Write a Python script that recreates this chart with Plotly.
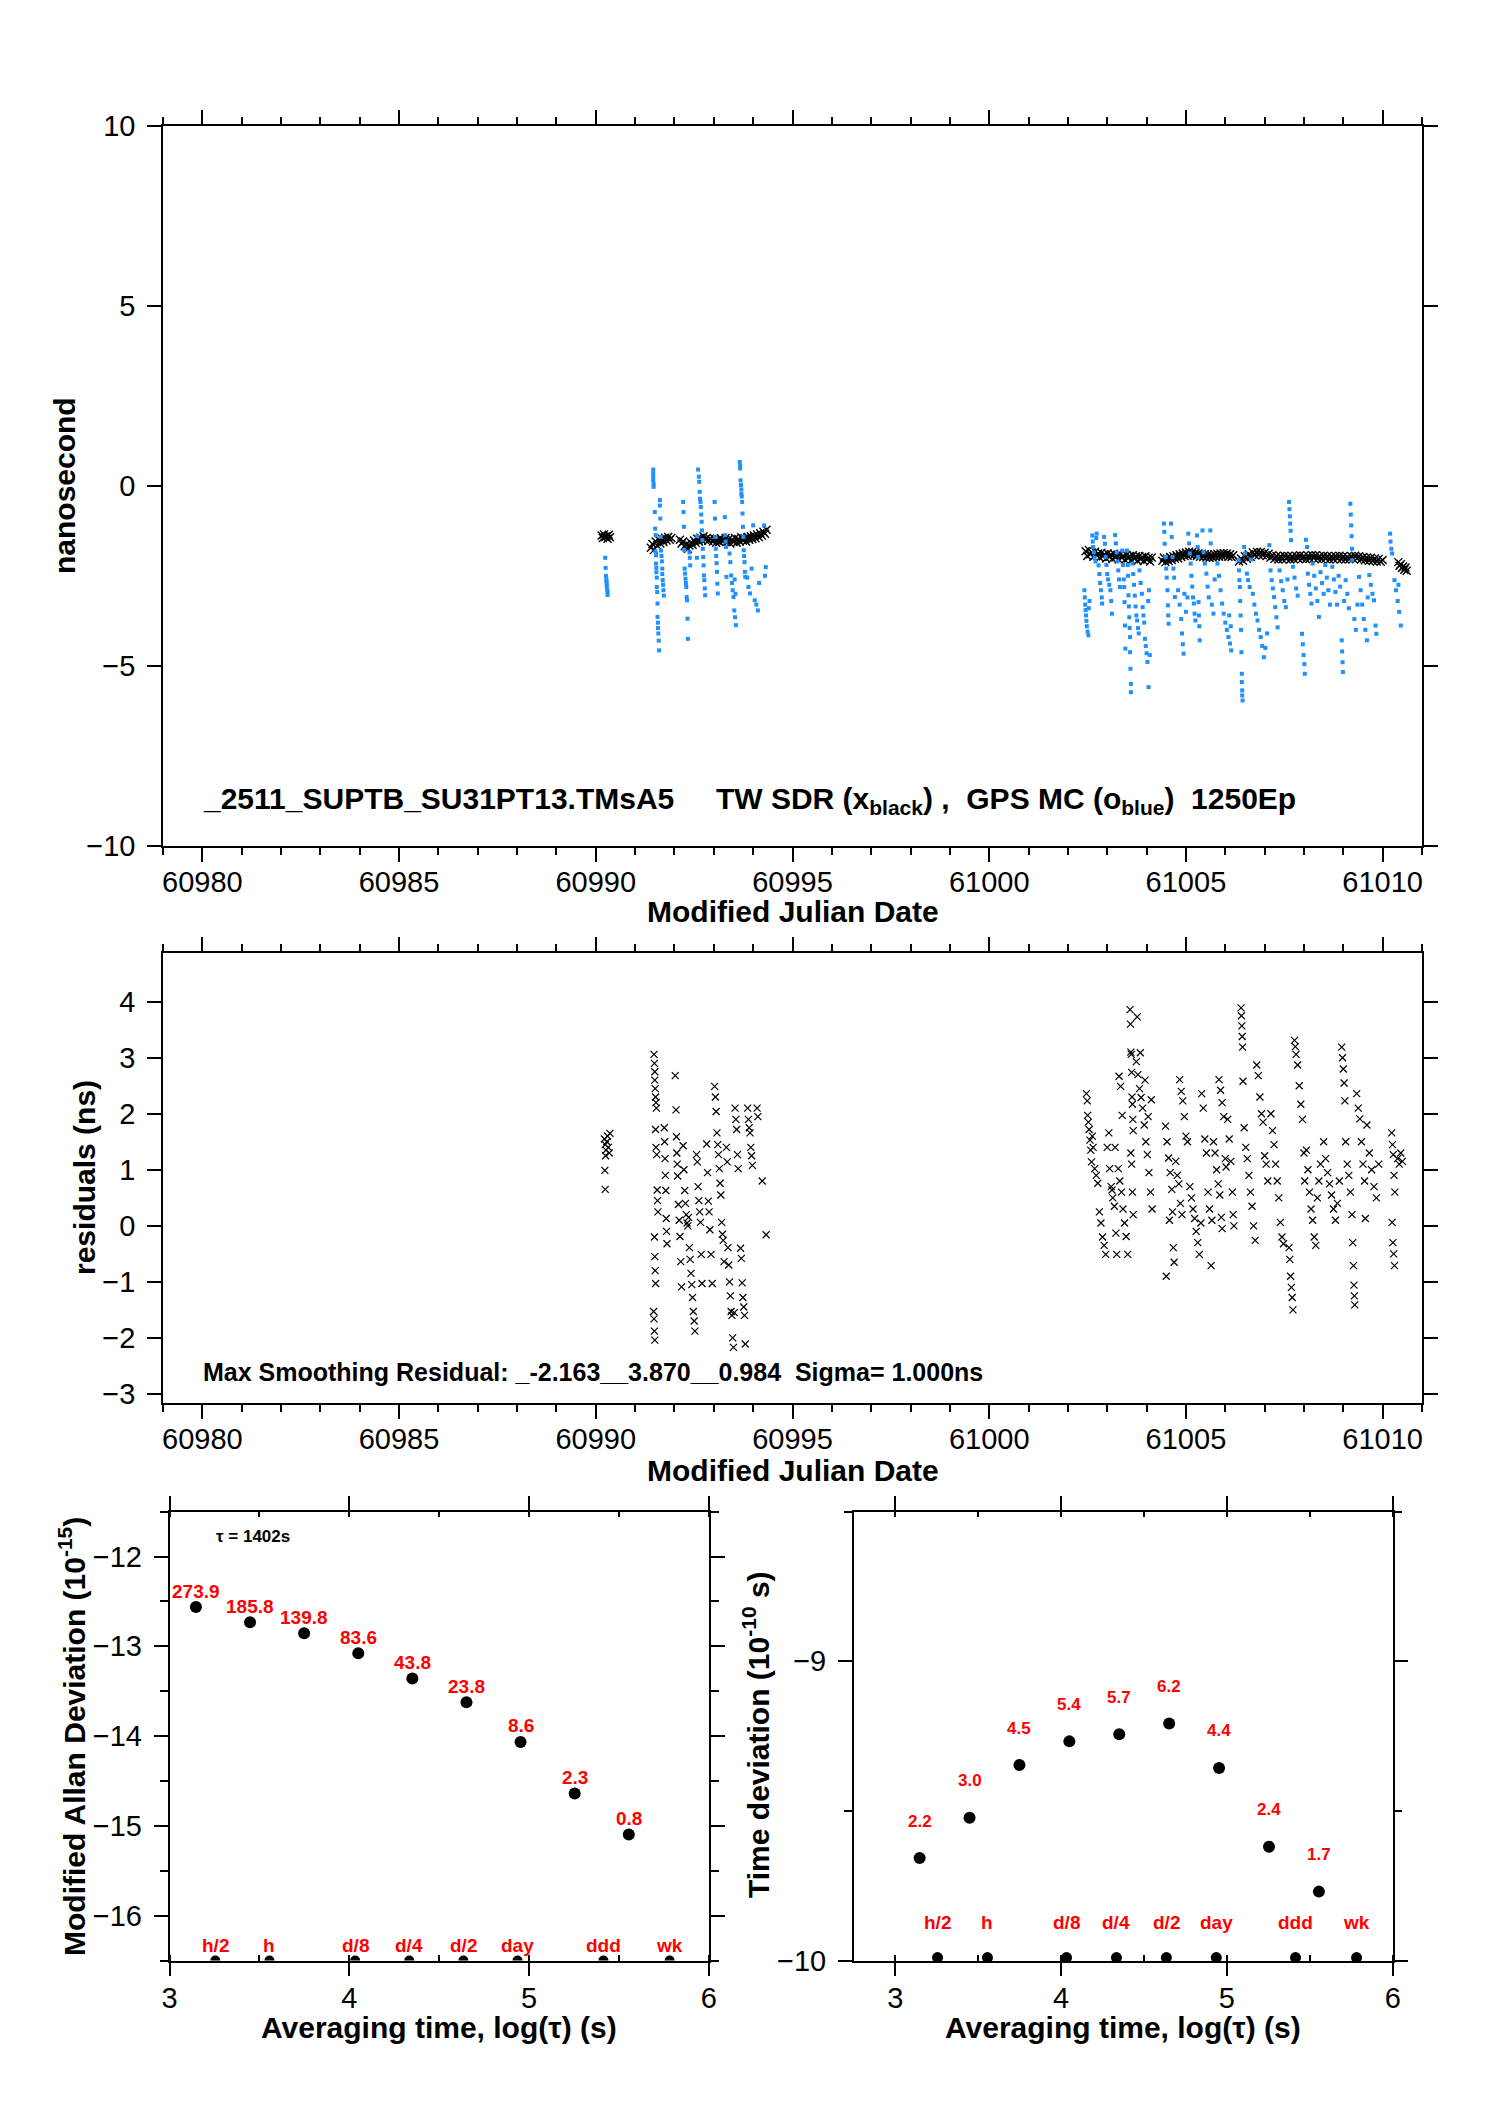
import math
import plotly.graph_objects as go

# ---------------- data: top panel (nanosecond) ----------------
# TW SDR (black x)
tw_pts = [
    (60990.15,-1.38),(60990.18,-1.45),(60990.21,-1.35),(60990.24,-1.42),(60990.27,-1.40),(60990.30,-1.47),(60990.33,-1.36),(60990.36,-1.43),
    (60991.40,-1.72),(60991.44,-1.62),(60991.48,-1.78),(60991.52,-1.55),(60991.56,-1.66),(60991.60,-1.50),(60991.64,-1.60),(60991.68,-1.47),
    (60991.72,-1.56),(60991.76,-1.44),(60991.80,-1.52),(60991.84,-1.42),(60991.88,-1.50),(60991.92,-1.45),
    (60992.14,-1.50),(60992.18,-1.60),(60992.22,-1.55),(60992.26,-1.68),(60992.30,-1.62),(60992.34,-1.75),(60992.38,-1.66),(60992.42,-1.58),
    (60992.46,-1.64),(60992.50,-1.52),(60992.54,-1.58),(60992.58,-1.47),(60992.62,-1.55),(60992.66,-1.44),(60992.70,-1.52),(60992.74,-1.40),
    (60992.78,-1.50),(60992.82,-1.45),(60992.86,-1.53),(60992.90,-1.47),
    (60992.98,-1.55),(60993.02,-1.48),(60993.06,-1.58),(60993.10,-1.50),(60993.14,-1.56),(60993.18,-1.46),(60993.21,-1.53),
    (60993.26,-1.52),(60993.30,-1.45),(60993.34,-1.55),(60993.38,-1.48),(60993.42,-1.60),(60993.46,-1.50),(60993.50,-1.56),(60993.54,-1.45),
    (60993.58,-1.58),(60993.62,-1.48),(60993.66,-1.55),(60993.70,-1.43),(60993.74,-1.52),(60993.78,-1.46),(60993.82,-1.55),(60993.86,-1.42),
    (60993.90,-1.50),(60993.94,-1.40),(60993.98,-1.48),(60994.02,-1.38),(60994.06,-1.46),(60994.10,-1.35),(60994.14,-1.42),(60994.18,-1.32),
    (60994.22,-1.38),(60994.26,-1.28),(60994.30,-1.33),(60994.34,-1.22),
    (61002.45,-1.82),(61002.49,-1.95),(61002.53,-1.78),(61002.57,-1.90),(61002.61,-1.85),(61002.65,-1.97),(61002.69,-1.83),(61002.73,-1.93),
    (61002.77,-1.88),(61002.81,-2.00),(61002.85,-1.86),(61002.89,-1.96),(61002.93,-1.90),(61002.97,-2.02),(61003.01,-1.88),(61003.05,-1.98),
    (61003.09,-1.91),(61003.13,-2.03),(61003.17,-1.89),(61003.21,-1.99),(61003.25,-1.93),(61003.29,-2.05),(61003.33,-1.90),(61003.37,-2.00),
    (61003.41,-1.94),(61003.45,-2.06),(61003.49,-1.92),(61003.53,-2.01),(61003.57,-1.95),(61003.61,-2.07),(61003.65,-1.93),(61003.69,-2.03),
    (61003.73,-1.96),(61003.77,-2.08),(61003.81,-1.95),(61003.85,-2.04),(61003.89,-1.98),(61003.93,-2.09),(61003.97,-1.96),(61004.01,-2.05),
    (61004.05,-2.00),(61004.09,-2.10),(61004.13,-1.99),
    (61004.40,-2.08),(61004.44,-2.00),(61004.48,-2.12),(61004.52,-2.02),(61004.56,-2.09),(61004.60,-1.98),(61004.64,-2.06),(61004.68,-1.96),
    (61004.72,-2.03),(61004.76,-1.93),(61004.80,-2.01),(61004.84,-1.90),(61004.88,-1.98),(61004.92,-1.88),(61004.96,-1.95),(61005.00,-1.85),
    (61005.04,-1.94),(61005.08,-1.83),(61005.12,-1.92),(61005.16,-1.84),(61005.20,-1.93),(61005.24,-1.86),(61005.28,-1.95),(61005.32,-1.88),
    (61005.36,-1.97),(61005.40,-1.89),(61005.44,-1.98),(61005.48,-1.90),(61005.52,-1.99),(61005.56,-1.91),(61005.60,-2.00),(61005.64,-1.92),
    (61005.68,-1.99),(61005.72,-1.90),(61005.76,-1.98),(61005.80,-1.89),(61005.84,-1.97),(61005.88,-1.88),(61005.92,-1.96),(61005.96,-1.87),
    (61006.00,-1.95),(61006.04,-1.88),(61006.08,-1.97),(61006.12,-1.90),(61006.16,-1.98),(61006.20,-1.93),
    (61006.35,-2.10),(61006.40,-2.02),(61006.45,-2.08),(61006.50,-1.96),(61006.55,-2.03),(61006.60,-1.90),(61006.65,-1.98),(61006.70,-1.85),
    (61006.75,-1.93),(61006.80,-1.83),(61006.85,-1.92),(61006.90,-1.84),(61006.95,-1.93),(61007.00,-1.86),(61007.05,-1.95),(61007.10,-1.89),
    (61007.15,-1.99),(61007.20,-1.93),(61007.25,-2.03),(61007.30,-1.95),(61007.35,-2.05),(61007.40,-1.96),(61007.45,-2.04),(61007.50,-1.94),
    (61007.55,-2.03),(61007.60,-1.95),(61007.65,-2.05),(61007.70,-1.96),(61007.75,-2.04),(61007.80,-1.94),(61007.85,-2.02),(61007.90,-1.93),
    (61007.95,-2.03),(61008.00,-1.95),(61008.05,-2.04),(61008.10,-1.94),(61008.15,-2.02),(61008.20,-1.92),(61008.25,-2.01),(61008.30,-1.93),
    (61008.35,-2.03),(61008.40,-1.95),(61008.45,-2.04),(61008.50,-1.94),(61008.55,-2.03),(61008.60,-1.95),(61008.65,-2.05),(61008.70,-1.96),
    (61008.75,-2.04),(61008.80,-1.95),(61008.85,-2.03),(61008.90,-1.94),(61008.95,-2.04),(61009.00,-1.96),(61009.05,-2.05),(61009.10,-1.97),
    (61009.15,-2.04),(61009.20,-1.95),(61009.25,-2.03),(61009.30,-1.94),(61009.35,-2.02),(61009.40,-1.96),(61009.45,-2.05),(61009.50,-1.98),
    (61009.55,-2.07),(61009.60,-1.99),(61009.65,-2.08),(61009.70,-2.00),(61009.75,-2.09),(61009.80,-2.02),(61009.85,-2.10),(61009.90,-2.03),
    (61009.95,-2.11),(61010.00,-2.06),
    (61010.40,-2.12),(61010.43,-2.22),(61010.46,-2.18),(61010.49,-2.28),(61010.52,-2.24),(61010.55,-2.33),(61010.58,-2.27),(61010.61,-2.36),
]

# GPS MC (blue)
gps_pts = [
    (60990.24,-2.00),(60990.25,-2.28),(60990.26,-2.50),(60990.27,-2.65),(60990.28,-2.72),(60990.28,-2.80),(60990.29,-2.88),(60990.30,-2.95),(60990.30,-3.03),(60990.27,-2.60),
    (60991.46,0.45),(60991.46,0.35),(60991.46,0.25),(60991.46,0.15),(60991.47,0.05),(60991.47,-0.03),
    (60991.50,-0.73),(60991.51,-1.19),(60991.52,-1.37),(60991.52,-1.82),(60991.53,-1.93),(60991.53,-2.16),(60991.54,-2.28),(60991.54,-2.40),
    (60991.55,-2.55),(60991.55,-2.81),(60991.56,-2.95),(60991.57,-3.27),(60991.57,-3.64),(60991.58,-3.80),(60991.58,-3.95),(60991.59,-4.10),
    (60991.60,-4.30),(60991.61,-4.57),
    (60991.63,-0.40),(60991.63,-0.55),(60991.64,-0.91),(60991.65,-1.42),(60991.66,-1.80),(60991.67,-1.95),(60991.68,-2.10),(60991.69,-2.30),
    (60991.69,-2.45),(60991.70,-2.62),(60991.71,-2.75),(60991.72,-2.90),(60991.73,-3.05),
    (60992.22,-0.45),(60992.23,-0.73),(60992.24,-1.14),(60992.25,-1.79),(60992.26,-2.30),(60992.27,-2.44),(60992.28,-2.58),(60992.29,-2.70),
    (60992.30,-2.81),(60992.31,-3.09),(60992.32,-3.18),(60992.33,-3.69),(60992.34,-4.25),(60992.38,-1.85),(60992.39,-2.00),(60992.40,-2.21),
    (60992.60,0.45),(60992.62,0.25),(60992.63,0.11),(60992.64,-0.17),(60992.65,-0.36),(60992.66,-0.45),(60992.67,-0.59),(60992.68,-0.80),
    (60992.69,-1.00),(60992.70,-1.24),(60992.71,-1.51),(60992.72,-1.75),(60992.73,-1.98),(60992.74,-2.21),(60992.75,-2.49),(60992.76,-2.62),
    (60992.77,-2.85),(60992.78,-3.04),(60992.58,-1.40),(60992.57,-2.00),
    (60993.02,-0.45),(60993.03,-0.91),(60993.04,-1.42),(60993.05,-1.75),(60993.06,-1.95),(60993.07,-2.15),(60993.08,-2.39),(60993.09,-2.72),(60993.10,-2.99),
    (60993.28,-0.87),(60993.29,-1.37),(60993.30,-1.55),(60993.31,-1.70),(60993.32,-2.53),
    (60993.40,-1.88),(60993.42,-2.12),(60993.44,-2.49),(60993.46,-2.70),(60993.48,-2.90),(60993.50,-3.09),(60993.52,-3.46),(60993.54,-3.65),
    (60993.56,-3.87),(60993.53,-2.60),(60993.55,-3.00),
    (60993.66,0.66),(60993.67,0.55),(60993.67,0.48),(60993.68,0.15),(60993.69,0.02),(60993.70,-0.10),(60993.70,-0.22),(60993.71,-0.30),
    (60993.72,-0.45),(60993.73,-0.77),(60993.74,-1.14),(60993.75,-1.42),(60993.76,-1.79),(60993.77,-1.95),(60993.78,-2.12),(60993.79,-2.39),(60993.80,-2.53),
    (60993.85,-2.55),(60993.88,-2.81),(60993.92,-2.99),(60993.96,-2.30),(60994.00,-1.10),(60994.04,-3.18),(60994.08,-3.30),(60994.12,-3.46),(60994.15,-2.70),
    (60994.28,-1.10),(60994.32,-2.26),(60994.30,-2.50),
    (61002.42,-2.90),(61002.43,-3.10),(61002.44,-3.30),(61002.45,-3.45),(61002.46,-3.60),(61002.47,-3.75),(61002.48,-3.90),(61002.50,-4.05),
    (61002.52,-4.15),(61002.53,-3.40),(61002.55,-3.20),
    (61002.62,-1.38),(61002.63,-1.55),(61002.64,-1.70),(61002.66,-1.85),(61002.68,-2.00),(61002.70,-2.10),(61002.72,-1.45),(61002.73,-1.33),
    (61002.78,-2.21),(61002.80,-2.45),(61002.82,-2.70),(61002.84,-2.90),(61002.86,-3.10),(61002.87,-3.27),
    (61002.92,-1.42),(61002.94,-1.61),(61002.96,-1.98),(61002.98,-2.20),(61003.00,-2.45),(61003.02,-2.60),(61003.05,-2.75),(61003.08,-2.90),
    (61003.10,-3.20),(61003.12,-3.55),
    (61003.20,-1.37),(61003.22,-1.60),(61003.24,-1.85),(61003.26,-2.10),(61003.28,-2.35),(61003.30,-2.60),(61003.32,-2.81),
    (61003.38,-1.80),(61003.40,-2.20),(61003.42,-2.60),(61003.43,-2.81),(61003.44,-3.23),(61003.45,-3.88),(61003.46,-4.52),
    (61003.50,-1.80),(61003.52,-2.20),(61003.53,-2.50),(61003.54,-3.04),(61003.55,-3.35),(61003.56,-3.65),(61003.57,-3.95),(61003.58,-4.20),
    (61003.58,-4.62),(61003.59,-5.08),(61003.60,-5.50),(61003.60,-5.73),
    (61003.64,-2.16),(61003.66,-2.45),(61003.68,-2.75),(61003.70,-3.05),(61003.72,-3.35),(61003.74,-3.60),(61003.76,-3.74),(61003.78,-3.95),(61003.80,-4.10),
    (61003.82,-2.35),(61003.85,-2.70),(61003.88,-3.00),(61003.90,-3.37),(61003.92,-3.60),(61003.94,-3.80),(61003.96,-4.25),(61003.98,-4.45),
    (61004.00,-4.65),(61004.02,-4.89),(61004.04,-3.20),(61004.06,-2.90),(61004.08,-4.70),(61004.05,-5.59),
    (61004.44,-1.05),(61004.45,-1.28),(61004.46,-1.61),(61004.48,-1.98),(61004.50,-2.30),(61004.51,-2.55),(61004.53,-2.90),(61004.54,-3.32),
    (61004.55,-3.60),(61004.56,-3.83),
    (61004.62,-1.05),(61004.64,-1.42),(61004.66,-1.98),(61004.68,-2.30),(61004.70,-2.55),(61004.72,-3.09),
    (61004.80,-2.90),(61004.84,-3.30),(61004.88,-3.70),(61004.90,-4.10),(61004.92,-4.40),(61004.94,-4.66),(61004.96,-3.00),(61005.00,-3.50),(61005.04,-3.10),
    (61005.06,-1.33),(61005.08,-1.60),(61005.10,-1.88),(61005.12,-2.16),(61005.14,-2.50),(61005.16,-2.80),(61005.18,-3.10),(61005.20,-3.27),
    (61005.22,-3.55),(61005.24,-3.74),
    (61005.28,-1.38),(61005.30,-1.70),(61005.31,-1.98),(61005.32,-3.23),(61005.33,-3.60),(61005.34,-3.90),(61005.35,-4.29),
    (61005.42,-1.24),(61005.45,-1.85),(61005.48,-2.16),(61005.52,-2.44),(61005.55,-2.80),(61005.58,-3.10),(61005.62,-1.24),(61005.63,-1.60),
    (61005.66,-3.30),(61005.70,-3.55),(61005.73,-2.60),
    (61005.80,-2.16),(61005.84,-2.50),(61005.88,-2.90),(61005.92,-3.27),(61005.96,-3.55),(61006.00,-3.80),(61006.04,-4.00),(61006.08,-4.20),
    (61006.12,-4.38),(61006.15,-4.57),(61006.10,-3.60),(61006.14,-3.90),
    (61006.34,-2.07),(61006.35,-2.35),(61006.36,-2.62),(61006.37,-2.81),(61006.38,-3.20),(61006.39,-3.60),(61006.40,-4.00),(61006.41,-4.62),
    (61006.42,-5.22),(61006.42,-5.45),(61006.43,-5.68),(61006.43,-5.82),(61006.44,-5.96),
    (61006.48,-1.70),(61006.50,-1.88),(61006.55,-2.44),(61006.58,-2.62),(61006.62,-2.81),(61006.65,-2.05),
    (61006.70,-3.00),(61006.74,-3.30),(61006.78,-3.55),(61006.82,-3.74),(61006.86,-4.00),(61006.90,-4.20),(61006.94,-4.45),(61006.98,-4.76),
    (61007.02,-4.50),(61007.06,-4.10),
    (61007.12,-1.65),(61007.15,-2.35),(61007.18,-2.62),(61007.21,-2.85),(61007.24,-3.09),(61007.27,-3.37),(61007.30,-3.65),(61007.33,-3.93),
    (61007.38,-2.35),(61007.42,-2.65),(61007.46,-2.90),(61007.50,-3.20),(61007.54,-3.37),(61007.58,-2.60),(61007.62,-0.45),(61007.63,-0.65),
    (61007.64,-0.85),(61007.65,-1.05),(61007.66,-1.25),(61007.67,-1.51),(61007.72,-2.25),(61007.76,-2.55),(61007.80,-2.85),(61007.84,-3.05),
    (61007.95,-4.11),(61007.97,-4.40),(61007.99,-4.70),(61008.01,-4.95),(61008.02,-5.22),
    (61008.05,-1.50),(61008.08,-1.70),(61008.10,-2.44),(61008.13,-2.75),(61008.16,-3.00),(61008.19,-3.27),
    (61008.22,-2.16),(61008.26,-2.50),(61008.30,-2.85),(61008.34,-3.20),(61008.38,-3.64),(61008.42,-2.40),(61008.46,-2.70),(61008.50,-3.00),
    (61008.54,-2.20),(61008.58,-2.55),(61008.62,-2.90),(61008.66,-3.30),
    (61008.72,-2.25),(61008.76,-2.60),(61008.80,-2.95),(61008.84,-3.30),(61008.88,-2.50),(61008.92,-2.80),(61008.96,-4.29),(61008.97,-4.60),
    (61008.98,-4.90),(61008.99,-5.17),(61009.02,-3.20),
    (61009.06,-2.62),(61009.10,-3.00),(61009.14,-3.40),(61009.18,-0.50),(61009.19,-0.80),(61009.20,-1.10),(61009.21,-1.40),(61009.22,-1.75),
    (61009.23,-2.07),(61009.28,-3.70),(61009.32,-4.00),(61009.36,-3.30),
    (61009.40,-2.53),(61009.44,-2.90),(61009.48,-3.30),(61009.52,-3.70),(61009.56,-4.00),(61009.60,-4.29),(61009.62,-3.10),
    (61009.66,-2.48),(61009.70,-2.75),(61009.74,-3.00),(61009.78,-3.18),(61009.82,-3.88),(61009.84,-4.11),
    (61010.19,-1.33),(61010.20,-1.55),(61010.22,-1.75),(61010.24,-1.88),
    (61010.30,-2.62),(61010.34,-2.90),(61010.38,-3.20),(61010.42,-3.50),(61010.46,-3.88),(61010.40,-2.75),
]

# ---------------- data: residuals ----------------
res_pts = [
    (60990.22,1.55),(60990.24,1.45),(60990.26,1.35),(60990.28,1.50),(60990.30,1.60),(60990.32,1.40),(60990.34,1.30),(60990.36,1.65),
    (60990.25,1.25),(60990.23,0.99),(60990.24,0.65),
    (60991.48,3.06),(60991.49,2.90),(60991.50,2.75),(60991.50,2.60),(60991.51,2.45),(60991.52,2.30),(60991.53,2.20),(60991.54,2.10),
    (60991.52,1.72),(60991.53,1.40),(60991.55,1.27),(60991.56,0.64),(60991.57,0.45),(60991.58,0.25),(60991.49,-0.20),(60991.50,-0.55),
    (60991.51,-0.80),(60991.52,-1.03),(60991.47,-1.53),(60991.48,-1.66),(60991.49,-1.88),(60991.50,-2.04),
    (60991.74,1.75),(60991.75,1.50),(60991.76,1.20),(60991.77,0.90),(60991.78,0.63),(60991.79,0.13),(60991.80,-0.10),(60991.81,-0.32),
    (60992.02,2.68),(60992.04,2.07),(60992.05,1.59),(60992.06,1.30),(60992.07,1.10),(60992.08,0.89),(60992.10,0.38),(60992.12,0.10),
    (60992.14,-0.19),(60992.16,-0.64),(60992.18,-1.09),
    (60992.22,1.43),(60992.24,1.00),(60992.26,0.63),(60992.28,0.40),(60992.30,0.20),(60992.32,0.05),(60992.34,0.00),(60992.36,0.15),
    (60992.38,-0.39),(60992.40,-0.60),(60992.42,-0.85),(60992.44,-1.05),(60992.46,-1.28),(60992.48,-1.53),(60992.50,-1.70),(60992.52,-1.88),
    (60992.56,1.27),(60992.58,1.14),(60992.60,0.70),(60992.62,0.45),(60992.64,0.25),(60992.66,0.06),(60992.68,-0.51),(60992.70,-1.03),
    (60992.82,1.46),(60992.84,0.95),(60992.86,0.44),(60992.88,0.25),(60992.90,-0.07),(60992.93,-0.51),(60992.96,-1.03),
    (60993.02,2.49),(60993.04,2.30),(60993.06,2.04),(60993.08,1.66),(60993.10,1.45),(60993.12,1.27),(60993.14,1.02),(60993.16,0.76),
    (60993.18,0.55),(60993.20,0.06),(60993.22,-0.15),(60993.24,-0.26),(60993.26,-0.64),
    (60993.32,1.40),(60993.34,1.14),(60993.36,-0.39),(60993.38,-0.70),(60993.40,-1.00),(60993.42,-1.25),(60993.44,-1.53),(60993.46,-1.60),
    (60993.48,-2.00),(60993.50,-2.17),(60993.52,-1.55),
    (60993.54,2.10),(60993.56,1.90),(60993.58,1.72),(60993.60,1.27),(60993.62,1.02),
    (60993.68,-0.40),(60993.70,-0.58),(60993.72,-1.02),(60993.74,-1.28),(60993.76,-1.45),(60993.78,-1.60),(60993.80,-2.11),
    (60993.86,2.10),(60993.88,1.90),(60993.90,1.75),(60993.92,1.66),(60993.94,1.40),(60993.96,1.25),(60993.98,1.08),(60994.10,2.10),
    (60994.12,1.95),(60994.23,0.80),(60994.33,-0.16),
    (61002.47,2.36),(61002.49,2.23),(61002.50,1.97),(61002.52,1.85),(61002.54,1.72),(61002.56,1.53),(61002.58,1.35),(61002.60,1.14),
    (61002.62,1.60),(61002.64,1.40),
    (61002.68,1.02),(61002.72,0.90),(61002.76,0.76),(61002.80,0.25),(61002.84,0.05),(61002.88,-0.20),(61002.92,-0.35),(61002.96,-0.51),
    (61003.00,1.40),(61003.04,1.66),
    (61003.06,1.02),(61003.10,0.70),(61003.14,0.50),(61003.18,0.35),(61003.22,-0.13),(61003.24,-0.51),(61003.12,0.64),(61003.20,1.40),
    (61003.28,1.02),(61003.32,0.80),(61003.36,0.60),(61003.40,0.30),(61003.44,0.05),(61003.48,-0.19),(61003.52,-0.51),(61003.30,2.67),
    (61003.34,2.49),(61003.38,1.97),
    (61003.58,3.86),(61003.59,3.60),(61003.60,3.10),(61003.61,3.06),(61003.62,2.74),(61003.63,2.30),(61003.64,2.17),(61003.65,1.90),
    (61003.66,1.70),(61003.60,1.30),(61003.62,1.10),(61003.64,0.60),(61003.66,0.20),
    (61003.74,2.93),(61003.78,2.70),(61003.82,2.45),(61003.86,2.29),(61003.90,2.10),(61003.94,1.80),(61003.98,1.50),(61004.02,1.27),
    (61004.06,0.95),(61004.10,0.60),(61004.14,0.30),(61003.76,3.73),(61003.84,3.09),(61003.96,2.60),(61004.04,1.95),(61004.12,2.25),
    (61004.48,1.78),(61004.52,1.50),(61004.56,1.21),(61004.60,0.95),(61004.64,0.65),(61004.66,0.25),(61004.68,-0.39),(61004.70,-0.65),
    (61004.50,-0.90),(61004.58,0.10),
    (61004.74,1.15),(61004.78,0.90),(61004.82,0.75),(61004.86,0.40),(61004.90,0.20),(61004.84,2.61),(61004.88,2.40),(61004.92,2.23),
    (61004.96,1.95),(61005.00,1.60),(61005.04,1.50),
    (61005.10,0.70),(61005.14,0.50),(61005.18,0.30),(61005.22,0.13),(61005.26,-0.10),(61005.30,-0.30),(61005.34,-0.51),(61005.38,0.05),
    (61005.40,2.36),(61005.44,2.10),(61005.48,1.55),(61005.52,1.30),(61005.56,0.60),(61005.60,0.30),(61005.64,-0.71),(61005.66,0.10),
    (61005.70,1.50),(61005.74,1.30),(61005.78,1.00),(61005.82,0.75),(61005.86,0.55),(61005.90,0.15),(61005.92,-0.05),
    (61005.84,2.61),(61005.88,2.42),(61005.92,2.20),(61005.96,1.95),(61006.00,1.20),(61006.02,1.05),
    (61006.06,1.90),(61006.10,1.55),(61006.14,1.15),(61006.18,0.60),(61006.20,0.20),(61006.22,0.00),
    (61006.40,3.89),(61006.41,3.75),(61006.42,3.57),(61006.43,3.38),(61006.44,3.19),(61006.45,2.58),
    (61006.48,1.75),(61006.52,1.40),(61006.56,1.20),(61006.60,0.90),(61006.64,0.60),(61006.68,0.35),(61006.72,0.00),(61006.76,-0.26),
    (61006.80,2.87),(61006.84,2.68),(61006.88,2.30),(61006.92,2.00),(61006.96,1.85),(61007.00,1.25),(61007.04,1.10),(61007.08,0.80),
    (61007.16,2.00),(61007.20,1.70),(61007.24,1.45),(61007.28,1.10),(61007.32,0.80),(61007.36,0.50),(61007.40,0.06),(61007.44,-0.20),(61007.48,-0.32),
    (61007.62,-0.39),(61007.64,-0.60),(61007.66,-0.90),(61007.68,-1.10),(61007.70,-1.28),(61007.72,-1.50),
    (61007.76,3.31),(61007.78,3.20),(61007.80,3.06),(61007.84,2.87),(61007.88,2.50),(61007.92,2.17),(61007.96,1.90),(61008.00,1.30),(61008.02,0.80),
    (61008.06,1.35),(61008.10,1.00),(61008.14,0.60),(61008.18,0.30),(61008.22,0.10),(61008.26,-0.20),(61008.30,-0.35),(61008.34,0.50),
    (61008.38,0.80),(61008.42,1.10),
    (61008.50,1.50),(61008.55,1.20),(61008.60,0.95),(61008.65,0.75),(61008.70,0.55),(61008.75,0.30),(61008.80,0.10),(61008.85,0.40),(61008.90,0.80),
    (61008.96,3.19),(61008.98,3.00),(61009.00,2.80),(61009.02,2.55),(61009.04,2.23),
    (61009.06,1.50),(61009.10,1.10),(61009.14,0.90),(61009.18,0.60),(61009.22,0.20),(61009.24,-0.30),(61009.26,-0.71),(61009.27,-1.06),
    (61009.28,-1.25),(61009.29,-1.41),
    (61009.34,2.36),(61009.38,2.10),(61009.42,1.91),(61009.46,1.50),(61009.50,1.10),(61009.54,0.80),(61009.56,0.13),
    (61009.60,1.80),(61009.66,1.30),(61009.72,1.00),(61009.78,0.70),(61009.84,0.50),(61009.90,1.10),
    (61010.23,1.66),(61010.25,1.45),(61010.27,1.27),(61010.29,0.90),(61010.31,0.60),(61010.24,0.06),(61010.26,-0.30),(61010.28,-0.50),(61010.30,-0.71),
    (61010.38,1.20),(61010.42,1.10),(61010.46,1.30),(61010.50,1.15),
]

# ---------------- data: stability panels ----------------
log_tau = [3.147, 3.448, 3.749, 4.050, 4.351, 4.652, 4.953, 5.254, 5.555]
mdev_vals = [273.9, 185.8, 139.8, 83.6, 43.8, 23.8, 8.6, 2.3, 0.8]      # x 1e-15
tdev_vals = [2.2, 3.0, 4.5, 5.4, 5.7, 6.2, 4.4, 2.4, 1.7]                # x 1e-10 s
mdev_text = ["273.9", "185.8", "139.8", "83.6", "43.8", "23.8", "8.6", "2.3", "0.8"]
tdev_text = ["2.2", "3.0", "4.5", "5.4", "5.7", "6.2", "4.4", "2.4", "1.7"]
marker_names = ["h/2", "h", "d/8", "d/4", "d/2", "day", "ddd", "wk"]
marker_logtau = [3.255, 3.556, 4.033, 4.334, 4.635, 4.936, 5.414, 5.782]
mdev_floor = -16.5
tdev_floor = -9.99

mdev_log = [math.log10(v) - 15 for v in mdev_vals]
tdev_log = [math.log10(v) - 10 for v in tdev_vals]

FONT = "Liberation Sans, Arial, Helvetica, sans-serif"
W, H = 1488, 2105
OFF = 8  # page body offset in px
BLUE = "#1E90FF"
RED = "#FF0000"


def px(x):
    return (x - OFF) / W


def py(y):
    return 1 - (y - OFF) / H


fig = go.Figure()

tw_x, tw_y = zip(*tw_pts)
gps_x, gps_y = zip(*gps_pts)
res_x, res_y = zip(*res_pts)

fig.add_trace(go.Scatter(x=tw_x, y=tw_y, mode="markers", xaxis="x", yaxis="y",
                         marker=dict(symbol="x-thin", size=8, color="black", line=dict(width=1.4, color="black")),
                         showlegend=False, hoverinfo="skip"))
fig.add_trace(go.Scatter(x=gps_x, y=gps_y, mode="markers", xaxis="x", yaxis="y",
                         marker=dict(symbol="square", size=4, color=BLUE, line=dict(width=0)),
                         showlegend=False, hoverinfo="skip"))
fig.add_trace(go.Scatter(x=res_x, y=res_y, mode="markers", xaxis="x2", yaxis="y2",
                         marker=dict(symbol="x-thin", size=7, color="black", line=dict(width=1.2, color="black")),
                         showlegend=False, hoverinfo="skip"))

# MDEV
fig.add_trace(go.Scatter(x=log_tau, y=mdev_log, mode="markers", xaxis="x3", yaxis="y3",
                         marker=dict(symbol="circle", size=12, color="black"), showlegend=False, hoverinfo="skip"))
fig.add_trace(go.Scatter(x=marker_logtau, y=[mdev_floor] * len(marker_logtau), mode="markers", xaxis="x3", yaxis="y3",
                         marker=dict(symbol="circle", size=10, color="black"), showlegend=False, hoverinfo="skip",
                         cliponaxis=True))
# TDEV
fig.add_trace(go.Scatter(x=log_tau, y=tdev_log, mode="markers", xaxis="x4", yaxis="y4",
                         marker=dict(symbol="circle", size=12, color="black"), showlegend=False, hoverinfo="skip"))
fig.add_trace(go.Scatter(x=marker_logtau, y=[tdev_floor] * len(marker_logtau), mode="markers", xaxis="x4", yaxis="y4",
                         marker=dict(symbol="circle", size=11, color="black"), showlegend=False, hoverinfo="skip",
                         cliponaxis=False))

TICKFONT = dict(family=FONT, size=29, color="black")


def axis_common(**kw):
    d = dict(showline=True, linecolor="black", linewidth=1.5, mirror="ticks", ticks="outside",
             ticklen=14, tickwidth=2, tickcolor="black", showgrid=False, zeroline=False,
             tickfont=TICKFONT, ticklabelstandoff=6, automargin=False)
    d.update(kw)
    return d


top_dom = [py(846), py(125.5)]
mid_dom = [py(1403), py(953)]
bot_dom = [py(1960.6), py(1511.6)]
xdom = [px(163), px(1422)]
xdom3 = [px(169.5), px(708.8)]
xdom4 = [px(853.8), px(1392.7)]

mjd_minor = dict(dtick=1, tick0=60980, ticks="outside", ticklen=7, tickwidth=2, tickcolor="black", showgrid=False)

fig.update_layout(
    template="none",
    width=W, height=H, autosize=False,
    margin=dict(l=0, r=0, t=0, b=0, pad=0),
    paper_bgcolor="white", plot_bgcolor="white",
    font=dict(family=FONT, color="black"),
    xaxis=axis_common(domain=xdom, anchor="y", range=[60979, 61011], tick0=60980, dtick=5, tickformat="d",
                      minor=mjd_minor, ticklabelstandoff=-5),
    yaxis=axis_common(domain=top_dom, anchor="x", range=[-10, 10], tick0=0, dtick=5),
    xaxis2=axis_common(domain=xdom, anchor="y2", range=[60979, 61011], tick0=60980, dtick=5, tickformat="d",
                       minor=mjd_minor, ticklabelstandoff=-5),
    yaxis2=axis_common(domain=mid_dom, anchor="x2", range=[-3.163, 4.870], tick0=0, dtick=1),
    xaxis3=axis_common(domain=xdom3, anchor="y3", range=[3, 6], tick0=3, dtick=1, ticklabelstandoff=-3,
                       minor=dict(dtick=0.5, tick0=3, ticks="inside", ticklen=6, tickwidth=2, tickcolor="black", showgrid=False)),
    yaxis3=axis_common(domain=bot_dom, anchor="x3", range=[-16.5, -11.5], tick0=-16, dtick=1,
                       minor=dict(dtick=0.5, tick0=-16, ticks="outside", ticklen=8, tickwidth=2, tickcolor="black", showgrid=False)),
    xaxis4=axis_common(domain=xdom4, anchor="y4", range=[2.75, 6], tick0=3, dtick=1, ticklabelstandoff=-3,
                       minor=dict(dtick=0.5, tick0=3, ticks="inside", ticklen=6, tickwidth=2, tickcolor="black", showgrid=False)),
    yaxis4=axis_common(domain=bot_dom, anchor="x4", range=[-10, -8.5], tick0=-10, dtick=1,
                       minor=dict(dtick=0.5, tick0=-10, ticks="outside", ticklen=8, tickwidth=2, tickcolor="black", showgrid=False)),
)

ann = []


def title(text, x, y, size=30, angle=0):
    ann.append(dict(text="<b>" + text + "</b>", x=px(x), y=py(y), xref="paper", yref="paper",
                    showarrow=False, textangle=angle, xanchor="center", yanchor="middle",
                    font=dict(family=FONT, size=size, color="black")))


title("nanosecond", 65, 486, angle=-90)
title("Modified Julian Date", 793, 912)
title("residuals (ns)", 84, 1178, angle=-90)
title("Modified Julian Date", 793, 1470)
title("Modified Allan Deviation (10<sup>-15</sup>)", 72, 1737, angle=-90)
title("Averaging time, log(\u03c4) (s)", 439, 2027)
title("Time deviation (10<sup>-10</sup> s)", 756, 1735, angle=-90)
title("Averaging time, log(\u03c4) (s)", 1123, 2027)

NB = "\u00a0"
top_text = ("_2511_SUPTB_SU31PT13.TMsA5" + NB * 5 + "TW SDR (x<sub>black</sub>)" + NB + "," + NB * 2 +
            "GPS MC (o<sub>blue</sub>)" + NB * 2 + "1250Ep")
ann.append(dict(text="<b>" + top_text + "</b>", x=px(201), y=py(800), xref="paper", yref="paper",
                showarrow=False, xanchor="left", yanchor="middle",
                font=dict(family=FONT, size=30, color="black")))
mid_text = "Max Smoothing Residual: _-2.163__3.870__0.984" + NB * 2 + "Sigma= 1.000ns"
ann.append(dict(text="<b>" + mid_text + "</b>", x=px(201), y=py(1372), xref="paper", yref="paper",
                showarrow=False, xanchor="left", yanchor="middle",
                font=dict(family=FONT, size=25, color="black")))
ann.append(dict(text="<b>\u03c4 = 1402s</b>", x=3.25, y=-11.78, xref="x3", yref="y3",
                showarrow=False, xanchor="left", yanchor="middle",
                font=dict(family=FONT, size=17, color="black")))

for xv, yv, t in zip(log_tau, mdev_log, mdev_text):
    ann.append(dict(text="<b>" + t + "</b>", x=xv, y=yv, xref="x3", yref="y3", showarrow=False,
                    xanchor="center", yanchor="middle", yshift=16,
                    font=dict(family=FONT, size=19, color=RED)))
for xv, t in zip(marker_logtau, marker_names):
    ann.append(dict(text="<b>" + t + "</b>", x=xv, y=mdev_floor, xref="x3", yref="y3", showarrow=False,
                    xanchor="center", yanchor="middle", yshift=15,
                    font=dict(family=FONT, size=19, color=RED)))
for xv, yv, t in zip(log_tau, tdev_log, tdev_text):
    ann.append(dict(text="<b>" + t + "</b>", x=xv, y=yv, xref="x4", yref="y4", showarrow=False,
                    xanchor="center", yanchor="middle", yshift=37,
                    font=dict(family=FONT, size=17, color=RED)))
for xv, t in zip(marker_logtau, marker_names):
    ann.append(dict(text="<b>" + t + "</b>", x=xv, y=tdev_floor, xref="x4", yref="y4", showarrow=False,
                    xanchor="center", yanchor="middle", yshift=35,
                    font=dict(family=FONT, size=19, color=RED)))

fig.update_layout(annotations=ann)

fig.write_html("out.html")
